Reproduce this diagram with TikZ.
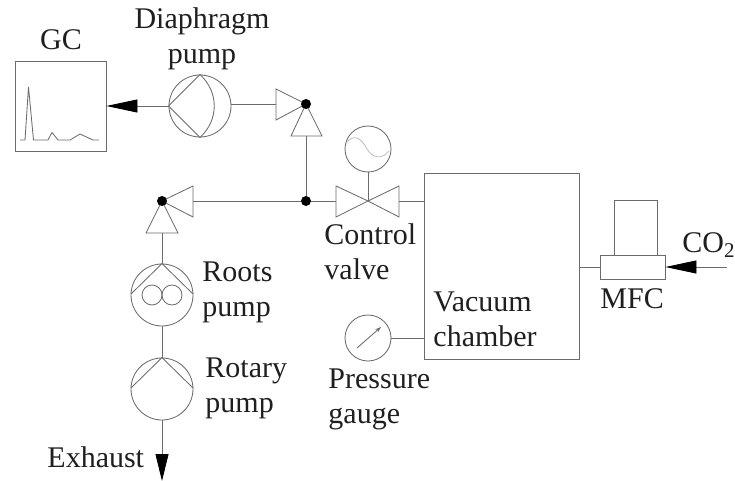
\documentclass[tikz,border=0pt]{standalone}
\usepackage{fontspec}
\setmainfont{Liberation Serif}
\usetikzlibrary{arrows.meta,calc,positioning}

\begin{document}
\begin{tikzpicture}[x=1pt,y=-1pt,>=Latex,
    line width=0.85pt,
    pipe/.style={draw=black!58},
    pumpbody/.style={circle,draw=black!58,minimum size=62pt,inner sep=0pt},
    dialbody/.style={circle,draw=black!58,minimum size=46pt,inner sep=0pt},
    junction/.style={circle,fill=black,minimum size=10pt,inner sep=0pt},
    boxbody/.style={rectangle,draw=black!58,inner sep=0pt},
    tag/.style={inner sep=0pt,text=black!88,align=left,font=\fontsize{30}{35}\selectfont},
    feed/.style={pipe,-{Triangle[length=#1,width=13pt,black]}}]
  \useasboundingbox (0,0) rectangle (735,481);

  % instruments and chamber
  \node[boxbody,minimum width=91pt,minimum height=90pt] (gc) at (60.5,106) {};
  \node[boxbody,minimum width=155pt,minimum height=186pt] (chamber) at (501.5,266) {};
  \node[boxbody,minimum width=65pt,minimum height=24pt] (mfc) at (632.5,267) {};
  \node[boxbody,minimum width=43pt,minimum height=55pt] (mfctop) at (635.5,227.5) {};

  % pumps
  \node[pumpbody] (diaphragm) at (200,106) {};
  \node[pumpbody] (roots) at (162,295) {};
  \node[pumpbody] (rotary) at (162,389) {};
  \node[dialbody] (actuator) at (368,149) {};
  \node[dialbody] (gauge) at (368,338) {};

  % valve tips
  \coordinate (tiptop) at (306,104);
  \coordinate (tipleft) at (162,201);
  \coordinate (valve) at (368,201);

  % diaphragm pump and chromatogram
  \draw[pipe] (diaphragm.west) -- (diaphragm.north) .. controls (219,92) and (219,120) .. (diaphragm.south) -- cycle;
  \draw[pipe] (20,140) -- (25,140) -- (28.5,87) -- (33.5,140) -- (48,140) -- (52,132.5) -- (58,140)
    -- (70,140) -- (80,134) -- (93,140) -- (99,140);

  % check valves
  \draw[pipe] (tiptop) -- (276,89) -- (276,120) -- cycle;
  \draw[pipe] (tiptop) -- (291,136) -- (322,136) -- cycle;
  \draw[pipe] (tipleft) -- (193,186) -- (193,217) -- cycle;
  \draw[pipe] (tipleft) -- (146,233) -- (178,233) -- cycle;

  % junctions
  \node[junction] (jtop) at (tiptop) {};
  \node[junction] (jmid) at (306,201) {};
  \node[junction] (jleft) at (tipleft) {};

  % control valve
  \draw[pipe] (valve) -- (336,186) -- (336,217) -- cycle;
  \draw[pipe] (valve) -- (399,186) -- (399,217) -- cycle;
  \draw[pipe] (valve) -- (actuator.south);
  \draw[gray!50] (346,143) .. controls (355,132) and (362,140) .. (367,149) .. controls (372,158) and (382,160) .. (389,151);

  % pipes
  \draw[feed=31pt] (diaphragm.west) -- (gc.east);
  \draw[pipe] (diaphragm.east |- jtop) -- (276,104);
  \draw[pipe] (306,136) -- (jmid);
  \draw[pipe] (jmid) -- (193,201);
  \draw[pipe] (jmid) -- (336,201);
  \draw[pipe] (399,201) -- (chamber.west |- valve);
  \draw[pipe] (162,233) -- (roots.north);
  \draw[pipe] (roots) -- (rotary);
  \draw[pipe] (gauge) -- (chamber.west |- gauge);
  \draw[pipe] (chamber.east |- mfc) -- (mfc.west);

  % roots and rotary pump
  \foreach \p in {roots,rotary}{
    \draw[pipe] ($(\p)+(-31,-1)$) -- (\p.north) -- ($(\p)+(31,-1)$);
  }
  \draw[pipe] (152,295) circle[radius=10];
  \draw[pipe] (172,295) circle[radius=10];

  % gauge needle
  \draw[pipe,-{Stealth[length=6pt,width=4pt]}] (357,348) -- (381,327);

  % free ends
  \coordinate (exhaustend) at (162,481);
  \coordinate (co2end) at (727,267);
  \draw[feed=27pt] (rotary.south) -- (exhaustend);
  \draw[feed=31pt] (co2end) -- (mfc.east);

  % labels
  \node[tag] (gclabel) at (61,40) {GC};
  \node[tag,align=center] (diaphragmlabel) at (202,39) {Diaphragm\\pump};
  \node[tag,anchor=west] (valvelabel) at (324,251.5) {Control\\valve};
  \node[tag,anchor=west] (rootslabel) at (202,292.5) {Roots\\pump};
  \node[tag,anchor=west] (rotarylabel) at (205,388) {Rotary\\pump};
  \node[tag,anchor=west] (gaugelabel) at (328,399.5) {Pressure\\gauge};
  \node[tag,anchor=west] (chamberlabel) at (433,319) {Vacuum\\chamber};
  \node[tag,anchor=base west] (mfclabel) at (600,308) {MFC};
  \node[tag,anchor=base west] (co2label) at (682,252) {CO\textsubscript{2}};
  \node[tag,anchor=base west] (exhaustlabel) at (47,467) {Exhaust};
\end{tikzpicture}
\end{document}
